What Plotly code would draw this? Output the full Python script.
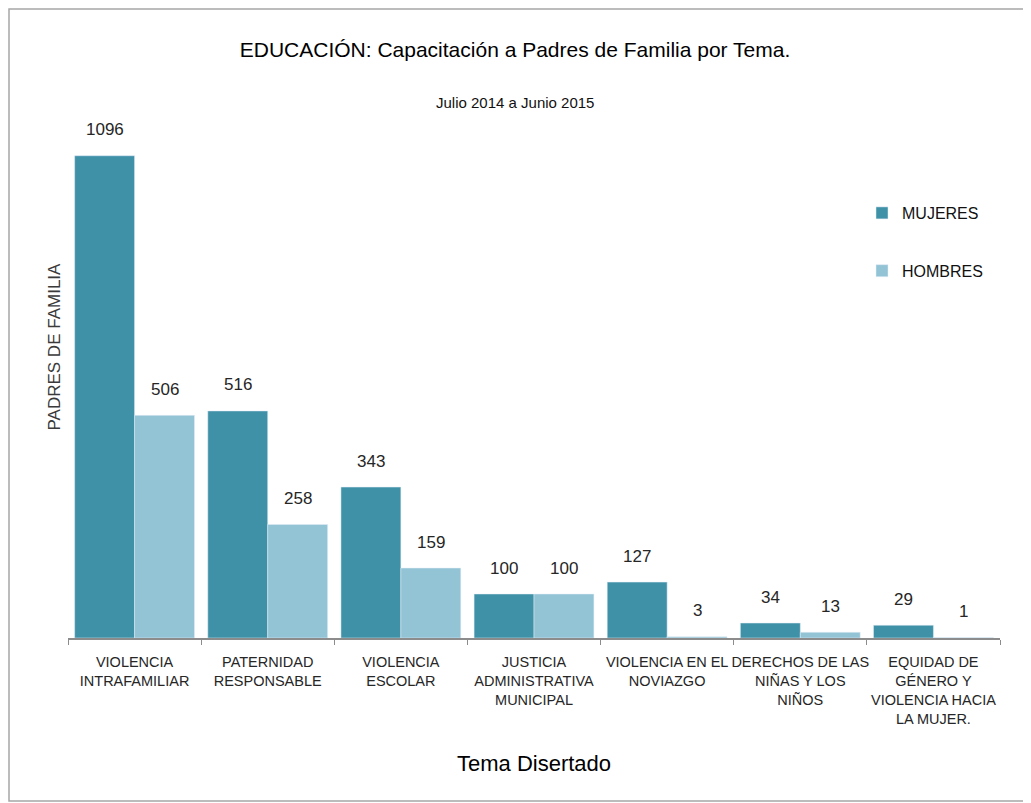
import plotly.graph_objects as go

# data
temas = [
    "VIOLENCIA<br>INTRAFAMILIAR",
    "PATERNIDAD<br>RESPONSABLE",
    "VIOLENCIA<br>ESCOLAR",
    "JUSTICIA<br>ADMINISTRATIVA<br>MUNICIPAL",
    "VIOLENCIA EN EL<br>NOVIAZGO",
    "DERECHOS DE LAS<br>NIÑAS Y LOS<br>NIÑOS",
    "EQUIDAD DE<br>GÉNERO Y<br>VIOLENCIA HACIA<br>LA MUJER.",
]
mujeres = [1096, 516, 343, 100, 127, 34, 29]
hombres = [506, 258, 159, 100, 3, 13, 1]

# the page body adds an 8px margin, so the figure is a bit smaller than the window
OFF = 8
W, H = 1031 - OFF, 803 - OFF
ML, MR, MT, MB = 60, 31, 102, 165
PW, PH = W - ML - MR, H - MT - MB
FONT = "Liberation Sans, Arial, sans-serif"
C_MUJ = "#3f91a8"
C_HOM = "#93c4d6"


# page pixel -> paper fraction
def px_x(p):
    return (p - OFF - ML) / PW


def px_y(p):
    return 1 - (p - OFF - MT) / PH


fig = go.Figure()
fig.add_trace(go.Bar(x=temas, y=mujeres, name="MUJERES", marker_color=C_MUJ, legendgroup="m"))
fig.add_trace(go.Bar(x=temas, y=hombres, name="HOMBRES", marker_color=C_HOM, legendgroup="h"))

# value labels above each bar
annotations = []
for series, shift in ((mujeres, -30), (hombres, 30)):
    for t, v in zip(temas, series):
        annotations.append(dict(x=t, y=v, xref="x", yref="y", text=str(v), showarrow=False,
                                xshift=shift, yshift=26, yanchor="middle",
                                font=dict(family=FONT, size=17, color="#262626")))

annotations += [
    dict(text="Julio 2014 a Junio 2015", x=px_x(515), y=px_y(92), xref="paper", yref="paper",
         showarrow=False, font=dict(family=FONT, size=15, color="#111111")),
    dict(text="PADRES DE FAMILIA", x=px_x(42), y=px_y(347), xref="paper", yref="paper",
         textangle=-90, showarrow=False, font=dict(family=FONT, size=17, color="#3a3a3a")),
    dict(text="Tema Disertado", x=px_x(534), y=px_y(778), xref="paper", yref="paper",
         showarrow=False, font=dict(family=FONT, size=22, color="#000000")),
]

fig.update_layout(
    width=W, height=H,
    margin=dict(l=ML, r=MR, t=MT, b=MB),
    paper_bgcolor="white", plot_bgcolor="white",
    title=dict(text="EDUCACIÓN: Capacitación a Padres de Familia por Tema.", x=(515 - OFF) / W, xref="container",
               xanchor="center", y=1 - (50 - OFF) / H, yanchor="middle",
               font=dict(family=FONT, size=21, color="#000000")),
    barmode="group", bargap=0.1, bargroupgap=0.0,
    showlegend=True,
    legend=dict(x=px_x(862), y=px_y(196), xanchor="left", yanchor="top", tracegroupgap=34,
                font=dict(family=FONT, size=16, color="#111111"), bgcolor="rgba(0,0,0,0)"),
    annotations=annotations,
    shapes=[dict(type="rect", xref="paper", yref="paper", x0=px_x(9), x1=px_x(1029),
                 y0=px_y(801), y1=px_y(9), line=dict(color="#a6a6a6", width=1.5))],
)
fig.update_xaxes(showline=True, linecolor="#8c8c8c", linewidth=1.5, ticks="outside", tickson="boundaries",
                 ticklen=5, tickcolor="#8c8c8c", tickfont=dict(family=FONT, size=14.5, color="#262626"),
                 tickangle=0, ticklabelstandoff=10)
fig.update_yaxes(range=[0, 1200], showticklabels=False, showgrid=False, zeroline=False, showline=False)

fig.write_html("out.html")
